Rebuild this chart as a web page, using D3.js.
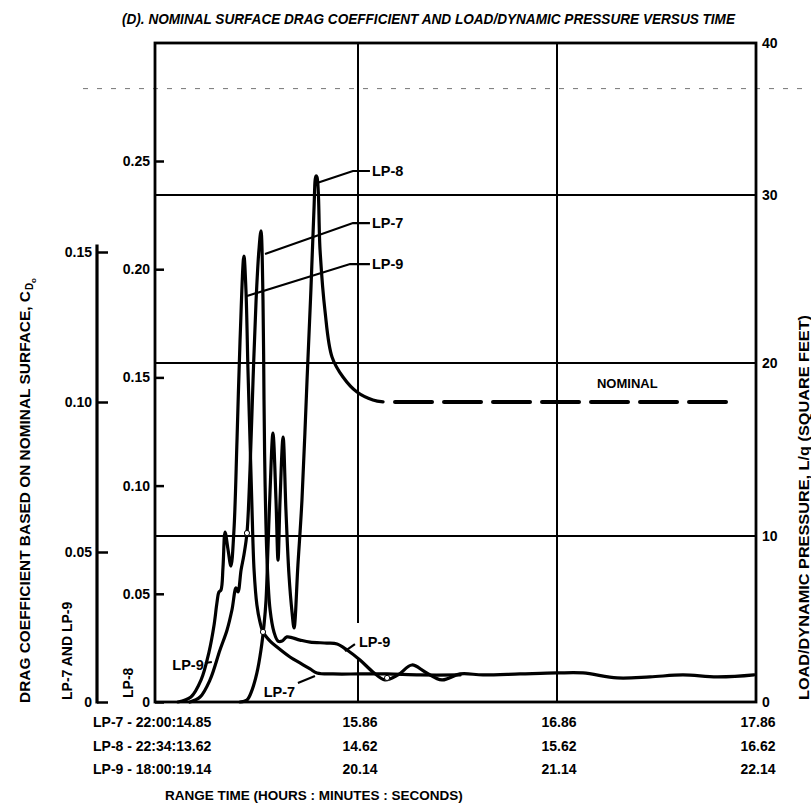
<!DOCTYPE html>
<html><head><meta charset="utf-8">
<script src="https://cdn.jsdelivr.net/npm/d3@7"></script>
<style>
html,body{margin:0;padding:0;background:#fff;}
text{font-family:"Liberation Sans",Arial,sans-serif;font-weight:bold;fill:#000;}
</style></head>
<body><svg id="c" width="811" height="808"></svg>
<script>
// ---- data (x: seconds after the first range-time tick, y: L/q in square feet) ----
const timeTicks = [0, 1, 2, 3];
const timeLP7 = ["LP-7 - 22:00:14.85", "15.86", "16.86", "17.86"];
const timeLP8 = ["LP-8 - 22:34:13.62", "14.62", "15.62", "16.62"];
const timeLP9 = ["LP-9 - 18:00:19.14", "20.14", "21.14", "22.14"];
const loadTicks = [0, 10, 20, 30, 40];
const cdInnerTicks = [0, 0.05, 0.10, 0.15, 0.20, 0.25];
const cdInnerLabels = ["0", "0.05", "0.10", "0.15", "0.20", "0.25"];
const cdOuterTicks = [0, 0.05, 0.10, 0.15];
const cdOuterLabels = ["0", "0.05", "0.10", "0.15"];

const lp9 = [[0.113,0],[0.177,0.30],[0.227,1.33],[0.266,3.01],[0.291,4.64],[0.305,5.96],[0.315,6.63],
  [0.325,6.75],[0.335,8.13],[0.345,10.23],[0.360,9.16],[0.374,8.19],[0.389,10.35],
  [0.404,15.55],[0.419,21.37],[0.438,26.37],[0.448,24.35],[0.458,19.60],[0.468,15.55],[0.478,11.50],
  [0.488,7.95],[0.502,5.84],[0.517,4.82],[0.532,4.22],[0.567,3.67],[0.601,3.31],[0.665,2.71],
  [0.714,2.35],[0.764,1.99],[0.798,1.75],[0.877,1.69],[1.010,1.69],[1.146,1.69],[1.312,1.63],[1.513,1.63]];
const lp7 = [[0.172,0],[0.222,0.30],[0.271,1.33],[0.320,3.13],[0.355,4.34],[0.379,5.54],[0.399,6.87],
  [0.409,6.63],[0.424,7.95],[0.438,8.86],[0.453,10.17],[0.468,13.82],[0.483,19.02],[0.498,23.75],
  [0.512,26.73],[0.522,27.86],[0.532,23.75],[0.537,17.86],[0.542,13.24],[0.552,8.55],[0.567,5.54],
  [0.586,4.22],[0.606,3.67],[0.626,3.67],[0.650,3.92],[0.714,3.73],[0.764,3.61],[0.847,3.55],
  [0.897,3.49],[0.946,3.13],[1.010,2.53],[1.075,1.81],[1.136,1.33],[1.201,1.63],[1.271,2.23],
  [1.337,1.81],[1.422,1.33],[1.513,1.69],[1.628,1.63],[1.814,1.69],[2.000,1.75],[2.131,1.75],
  [2.302,1.45],[2.467,1.51],[2.633,1.63],[2.804,1.51],[2.990,1.63]];
const lp8 = [[0.419,0],[0.453,0.12],[0.478,0.72],[0.502,1.75],[0.522,3.13],[0.537,4.64],[0.547,6.14],
  [0.557,9.46],[0.567,12.66],[0.581,15.95],[0.596,12.08],[0.606,8.55],[0.616,12.08],[0.631,15.72],
  [0.645,11.50],[0.660,7.65],[0.675,5.42],[0.685,4.46],[0.704,8.25],[0.724,12.08],[0.749,19.02],
  [0.768,24.35],[0.783,29.11],[0.793,31.25],[0.798,31.18],[0.813,26.73],[0.837,23.15],[0.872,20.36],
  [0.926,19.19],[0.995,18.32],[1.075,17.86],[1.126,17.75]];
const nominal = [[1.186,17.75],[2.905,17.75]];
const crossMarks = [[0.453,10.17],[0.532,4.22],[1.146,1.45]];

// annotations: leader polylines and label anchors, in data units
const leaders = [
  {text:"LP-8", pts:[[0.798,30.79],[0.975,31.58],[1.06,31.58]], at:[1.07,31.58], anchor:"start"},
  {text:"LP-7", pts:[[0.542,26.49],[0.975,28.33],[1.06,28.33]], at:[1.07,28.33], anchor:"start"},
  {text:"LP-9", pts:[[0.453,23.99],[0.961,25.89],[1.06,25.89]], at:[1.07,25.89], anchor:"start"},
  {text:"LP-9", pts:[[0.246,2.35],[0.280,2.41]], at:[0.240,2.23], anchor:"end"},
  {text:"LP-7", pts:[[0.704,1.14],[0.788,1.57]], at:[0.690,0.60], anchor:"end"},
  {text:"LP-9", pts:[[0.985,3.49],[0.936,3.07]], at:[1.005,3.61], anchor:"start"},
  {text:"NOMINAL", pts:[], at:[2.201,18.84], anchor:"start"}
];
const gridGap = [2.71, 4.76];
const foldLine = 37.0;

// ---- scales ----
const svg = d3.select("#c");
const x = d3.scaleLinear().domain([0,1,2,3]).range([155,358,557,756]);
const yR = d3.scaleLinear().domain([0,10,20,30,40]).range([702,536,363,195,43]);
const yIn = d3.scaleLinear().domain([0,0.25]).range([702,161]);
const yOut = d3.scaleLinear().domain([0,0.15]).range([702,252]);

// faint fold mark across the top
svg.append("line").attr("x1",x(0)-72).attr("x2",808).attr("y1",yR(foldLine)).attr("y2",yR(foldLine))
  .attr("stroke","#777").attr("stroke-width",1).attr("stroke-dasharray","5,9");

// grid
const g = svg.append("g");
[10,20,30].forEach(v=>{
  g.append("line").attr("x1",x(0)).attr("x2",x(3)).attr("y1",yR(v)).attr("y2",yR(v))
   .attr("stroke","#000").attr("stroke-width",2);
});
g.append("line").attr("x1",x(1)).attr("x2",x(1)).attr("y1",yR(0)).attr("y2",yR(gridGap[0])).attr("stroke","#000").attr("stroke-width",2);
g.append("line").attr("x1",x(1)).attr("x2",x(1)).attr("y1",yR(gridGap[1])).attr("y2",yR(40)).attr("stroke","#000").attr("stroke-width",2);
g.append("line").attr("x1",x(2)).attr("x2",x(2)).attr("y1",yR(0)).attr("y2",yR(40)).attr("stroke","#000").attr("stroke-width",2);
g.append("rect").attr("x",x(0)).attr("y",yR(40)).attr("width",x(3)-x(0)).attr("height",yR(0)-yR(40))
  .attr("fill","none").attr("stroke","#000").attr("stroke-width",2.8);

// inner left axis (LP-8)
const axIn = svg.append("g").attr("transform",`translate(${x(0)},0)`)
  .call(d3.axisLeft(yIn).tickValues(cdInnerTicks).tickSize(-9).tickSizeOuter(0).tickPadding(5)
    .tickFormat((d,i)=>cdInnerLabels[i]));
axIn.select(".domain").remove();
axIn.selectAll(".tick line").attr("stroke","#000").attr("stroke-width",2.5);
axIn.selectAll(".tick text").style("font-size","14px").style("font-family","Liberation Sans, Arial").style("font-weight","bold");

// outer left axis (LP-7 and LP-9)
const outerX = 97;
svg.append("line").attr("x1",outerX).attr("x2",outerX).attr("y1",yOut(0)+1.5).attr("y2",yOut(0.1525))
  .attr("stroke","#000").attr("stroke-width",3.2);
const axOut = svg.append("g").attr("transform",`translate(${outerX},0)`)
  .call(d3.axisLeft(yOut).tickValues(cdOuterTicks).tickSize(-11).tickSizeOuter(0).tickPadding(5)
    .tickFormat((d,i)=>cdOuterLabels[i]));
axOut.select(".domain").remove();
axOut.selectAll(".tick line").attr("stroke","#000").attr("stroke-width",2.5);
axOut.selectAll(".tick text").style("font-size","14px").style("font-family","Liberation Sans, Arial").style("font-weight","bold");

// right axis L/q
const axR = svg.append("g").attr("transform",`translate(${x(3)},0)`)
  .call(d3.axisRight(yR).tickValues(loadTicks).tickSize(0).tickPadding(6));
axR.select(".domain").remove();
axR.selectAll(".tick text").style("font-size","14px").style("font-family","Liberation Sans, Arial").style("font-weight","bold");

// bottom time rows
const rows = [timeLP7, timeLP8, timeLP9];
const rowY = [722, 746, 769];
rows.forEach((labels,r)=>{
  timeTicks.forEach((t,i)=>{
    const tx = svg.append("text").attr("y",rowY[r]).attr("dominant-baseline","central")
      .style("font-size","14px").text(labels[i]);
    if(i===0){ tx.attr("x",x(0)-62).attr("text-anchor","start"); }
    else { tx.attr("x",x(t)+2).attr("text-anchor","middle"); }
  });
});
svg.append("text").attr("x",x(0)+10).attr("y",795).attr("dominant-baseline","central")
  .style("font-size","13.5px").text("RANGE TIME (HOURS : MINUTES : SECONDS)");

// title
svg.append("text").attr("x",122).attr("y",18).attr("dominant-baseline","central")
  .attr("textLength",613).attr("lengthAdjust","spacingAndGlyphs")
  .style("font-size","15px").style("font-style","italic")
  .text("(D). NOMINAL SURFACE DRAG COEFFICIENT AND LOAD/DYNAMIC PRESSURE VERSUS TIME");

// left titles
const lt = svg.append("g").attr("transform","translate(25,703) rotate(-90)");
lt.append("text").attr("x",0).attr("y",0).attr("dominant-baseline","central")
  .attr("textLength",412).attr("lengthAdjust","spacingAndGlyphs").style("font-size","14px")
  .text("DRAG COEFFICIENT BASED ON NOMINAL SURFACE, C");
lt.append("text").attr("x",413).attr("y",4).attr("dominant-baseline","central").style("font-size","10px").text("D");
lt.append("text").attr("x",420).attr("y",8).attr("dominant-baseline","central").style("font-size","8px").text("o");
svg.append("g").attr("transform","translate(67,700) rotate(-90)").append("text")
  .attr("dominant-baseline","central").style("font-size","14px").text("LP-7 AND LP-9");
svg.append("g").attr("transform","translate(128,698) rotate(-90)").append("text")
  .attr("dominant-baseline","central").style("font-size","14px").text("LP-8");
// right title
svg.append("g").attr("transform","translate(804,700) rotate(-90)").append("text")
  .attr("dominant-baseline","central").attr("textLength",385).attr("lengthAdjust","spacingAndGlyphs")
  .style("font-size","14px").text("LOAD/DYNAMIC PRESSURE, L/q (SQUARE FEET)");

// curves
const line = d3.line().x(d=>x(d[0])).y(d=>yR(d[1])).curve(d3.curveCatmullRom.alpha(0.5));
[lp9, lp7, lp8].forEach(s=>{
  svg.append("path").attr("d",line(s)).attr("fill","none").attr("stroke","#000")
    .attr("stroke-width",3.2).attr("stroke-linejoin","round").attr("stroke-linecap","round");
});
svg.append("path").attr("d",d3.line().x(d=>x(d[0])).y(d=>yR(d[1]))(nominal))
  .attr("fill","none").attr("stroke","#000").attr("stroke-width",4).attr("stroke-dasharray","37,12")
  .attr("stroke-linecap","round");
crossMarks.forEach(d=>{
  svg.append("circle").attr("cx",x(d[0])).attr("cy",yR(d[1])).attr("r",2.6)
    .attr("fill","#fff").attr("stroke","#000").attr("stroke-width",1);
});

// leaders and labels
const pl = d3.line().x(d=>x(d[0])).y(d=>yR(d[1]));
leaders.forEach(a=>{
  if(a.pts.length) svg.append("path").attr("d",pl(a.pts)).attr("fill","none").attr("stroke","#000").attr("stroke-width",2.2);
  svg.append("text").attr("x",x(a.at[0])).attr("y",yR(a.at[1])).attr("dominant-baseline","central")
    .attr("text-anchor",a.anchor).style("font-size", a.text==="NOMINAL" ? "13px" : "14.5px").text(a.text);
});
</script></body></html>
